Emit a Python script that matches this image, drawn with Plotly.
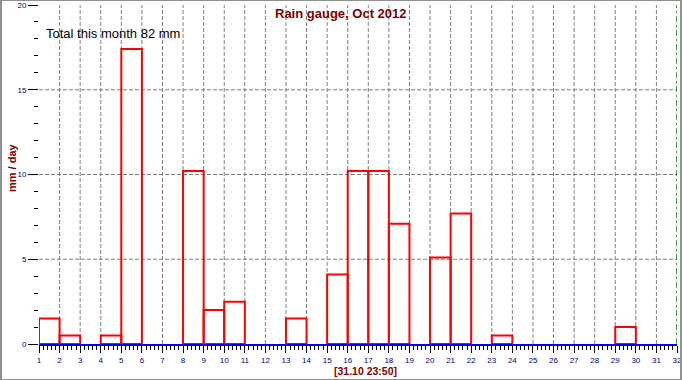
import plotly.graph_objects as go

# ---- data ----
days = list(range(1, 32))
rain_mm = [1.5, 0.5, 0, 0.5, 17.4, 0, 0, 10.2, 2.0, 2.5,
           0, 0, 1.5, 0, 4.1, 10.2, 10.2, 7.1, 0, 5.1,
           7.7, 0, 0.5, 0, 0, 0, 0, 0, 1.0, 0, 0]
x_ticks = list(range(1, 33))
y_ticks = [0, 5, 10, 15, 20]
x_grid = list(range(2, 32))
y_grid = [5, 10, 15]
title_text = "Rain gauge, Oct 2012"
total_text = "Total this month 82 mm"
ytitle_text = "mm / day"
stamp_text = "[31.10 23:50]"

W, H = 682, 380
ML, MR, MT, MB = 39, 5, 5, 36
PW = W - ML - MR
PH = H - MT - MB

def px_x(px):
    return (px - ML) / PW

def px_y(py):
    return (H - MB - py) / PH

bx = [d for d, v in zip(days, rain_mm) if v > 0]
by = [v for v in rain_mm if v > 0]

fig = go.Figure()
fig.add_trace(go.Bar(
    x=bx, y=by, width=1, offset=0,
    marker=dict(color="rgba(0,0,0,0)", line=dict(color="#ff0000", width=2)),
    hoverinfo="x+y", showlegend=False,
))

shapes = []
for gx in x_grid:
    shapes.append(dict(type="line", xref="x", yref="y", x0=gx, x1=gx, y0=0, y1=20,
                       line=dict(color="#808080", width=1, dash="4px,2px"), layer="below"))
for gy in y_grid:
    shapes.append(dict(type="line", xref="x", yref="y", x0=1, x1=32, y0=gy, y1=gy,
                       line=dict(color="#808080", width=1, dash="4px,2px"), layer="below"))
# green end-of-month marker
shapes.append(dict(type="line", xref="x", yref="y", x0=x_ticks[-1], x1=x_ticks[-1], y0=0, y1=20,
                   line=dict(color="#008000", width=1.5, dash="6px,3px,2px,3px"), layer="above"))
# outer frame
border = "#909090"
shapes += [
    dict(type="line", xref="paper", yref="paper", x0=px_x(1), x1=px_x(1), y0=px_y(0), y1=px_y(380),
         line=dict(color=border, width=2)),
    dict(type="line", xref="paper", yref="paper", x0=px_x(681), x1=px_x(681), y0=px_y(0), y1=px_y(380),
         line=dict(color=border, width=2)),
    dict(type="line", xref="paper", yref="paper", x0=px_x(0), x1=px_x(682), y0=px_y(0.5), y1=px_y(0.5),
         line=dict(color=border, width=1)),
    dict(type="line", xref="paper", yref="paper", x0=px_x(0), x1=px_x(682), y0=px_y(379.5), y1=px_y(379.5),
         line=dict(color=border, width=1)),
]

tickfont = dict(family="Liberation Sans, Arial, sans-serif", size=8, color="#000080")

fig.update_layout(
    width=W, height=H,
    margin=dict(l=ML, r=MR, t=MT, b=MB, pad=0, autoexpand=False),
    paper_bgcolor="white", plot_bgcolor="white",
    showlegend=False,
    shapes=shapes,
    xaxis=dict(
        range=[x_ticks[0], x_ticks[-1]], tickmode="array", tickvals=x_ticks,
        ticktext=[str(t) for t in x_ticks],
        ticks="outside", ticklen=7, tickwidth=1, tickcolor="black",
        minor=dict(dtick=0.2, tick0=1, ticks="outside", ticklen=4, tickwidth=1, tickcolor="black"),
        showgrid=False, zeroline=False, automargin=False,
        showline=True, linecolor="#0000ff", linewidth=2,
        tickfont=tickfont, fixedrange=True,
    ),
    yaxis=dict(
        range=[y_ticks[0], y_ticks[-1]], tickmode="array", tickvals=y_ticks,
        ticktext=[str(t) for t in y_ticks],
        ticks="outside", ticklen=10, tickwidth=1, tickcolor="black",
        minor=dict(dtick=1, tick0=0, ticks="outside", ticklen=4, tickwidth=1, tickcolor="black"),
        showgrid=False, zeroline=False, showline=False, automargin=False,
        tickfont=tickfont, fixedrange=True,
    ),
    annotations=[
        dict(text="<b>" + title_text + "</b>", xref="paper", yref="paper",
             x=px_x(341), y=px_y(13), xanchor="center", yanchor="middle", showarrow=False,
             font=dict(family="Liberation Sans, Arial, sans-serif", size=13, color="#800000")),
        dict(text=total_text, xref="paper", yref="paper",
             x=px_x(44), y=px_y(33), xanchor="left", yanchor="middle", showarrow=False,
             font=dict(family="Liberation Sans, Arial, sans-serif", size=13, color="black")),
        dict(text="<b>" + ytitle_text + "</b>", xref="paper", yref="paper", textangle=-90,
             x=px_x(12), y=px_y(168), xanchor="center", yanchor="middle", showarrow=False,
             font=dict(family="Liberation Sans, Arial, sans-serif", size=11, color="#800000")),
        dict(text="<b>" + stamp_text + "</b>", xref="paper", yref="paper",
             x=px_x(366), y=px_y(371), xanchor="center", yanchor="middle", showarrow=False,
             font=dict(family="Liberation Sans, Arial, sans-serif", size=10.5, color="#800000")),
    ],
)

fig.write_html("out.html")
